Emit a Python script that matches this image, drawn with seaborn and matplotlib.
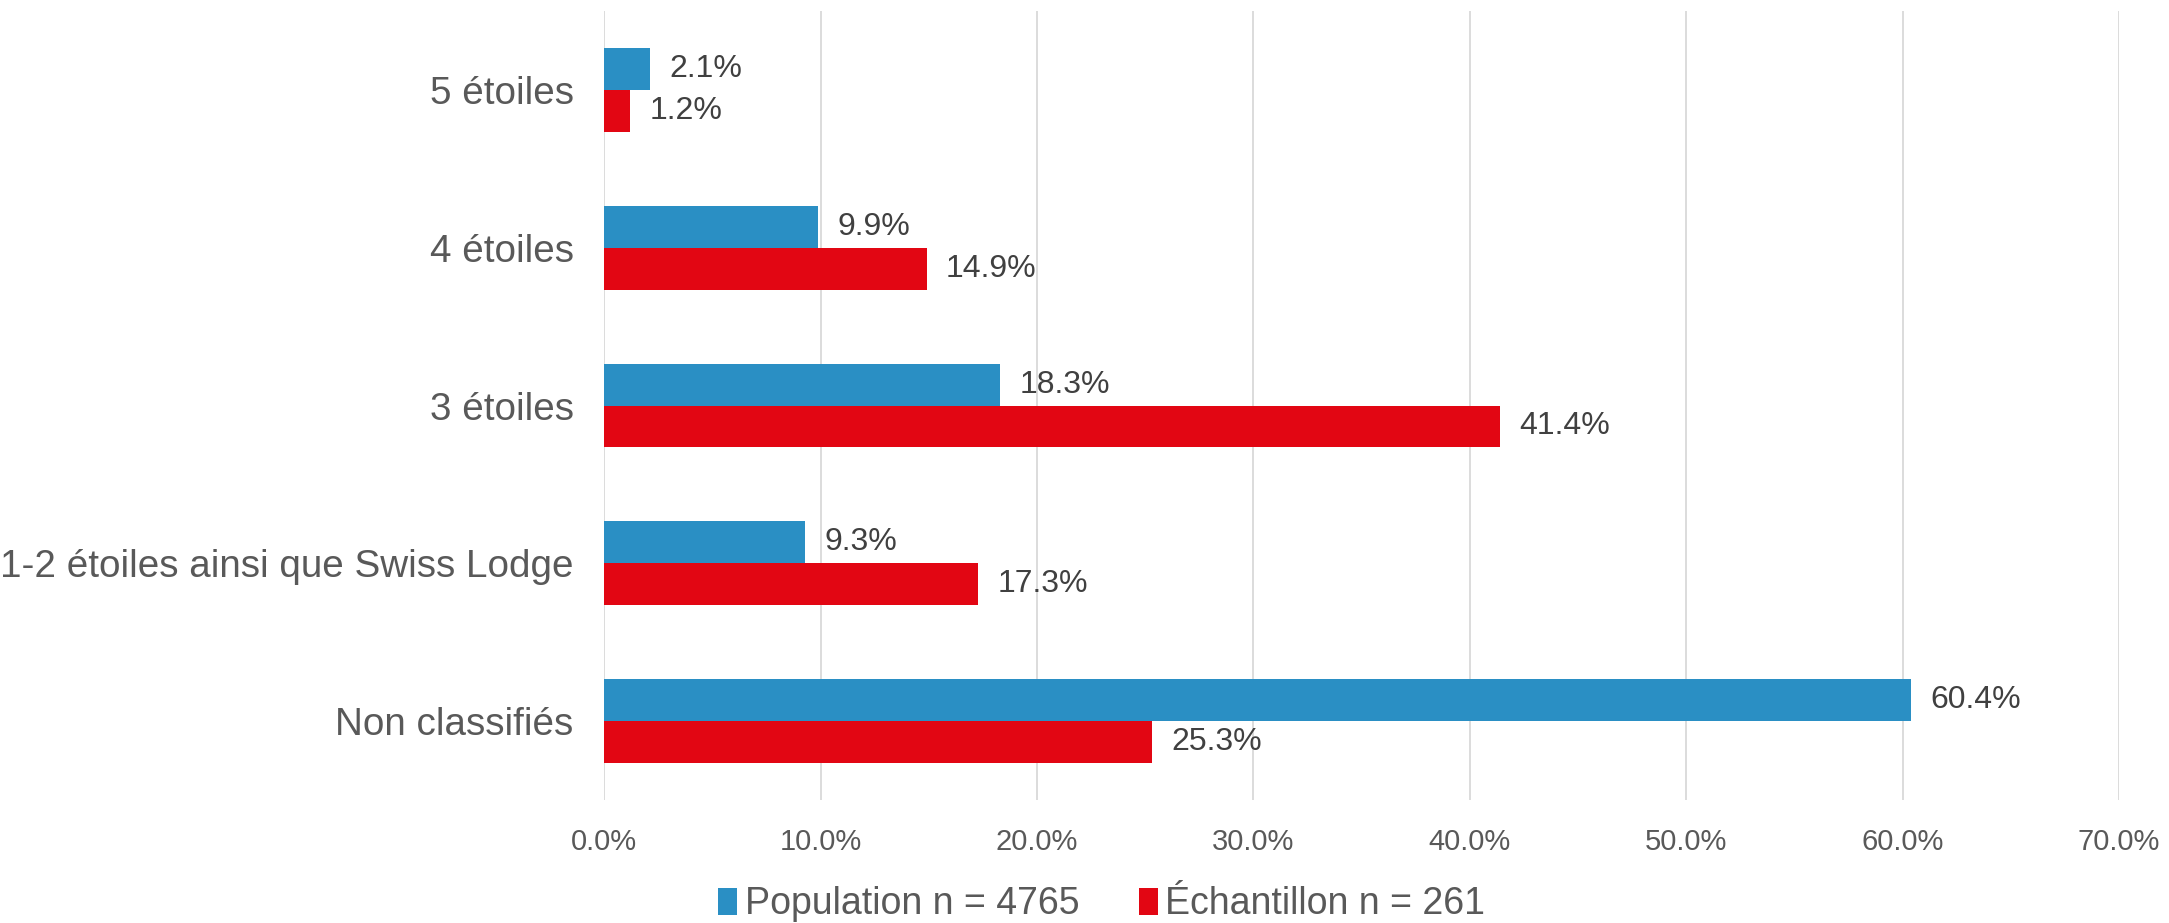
import matplotlib
matplotlib.use("Agg")
import matplotlib.pyplot as plt
import seaborn as sns
import pandas as pd
from matplotlib.ticker import FuncFormatter, MultipleLocator
from matplotlib.patches import Patch

categories = ["5 étoiles", "4 étoiles", "3 étoiles",
              "1-2 étoiles ainsi que Swiss Lodge", "Non classifiés"]
population = [2.1, 9.9, 18.3, 9.3, 60.4]
echantillon = [1.2, 14.9, 41.4, 17.3, 25.3]
series_names = ["Population n = 4765", "Échantillon n = 261"]
colors = ["#2A8FC4", "#E20613"]

df = pd.DataFrame({
    "cat": categories * 2,
    "val": population + echantillon,
    "series": [series_names[0]] * len(categories) + [series_names[1]] * len(categories),
})

sns.set_theme(style="white")
plt.rcParams["font.family"] = ["Liberation Sans", "DejaVu Sans"]
text_color = "#595959"

fig = plt.figure(figsize=(21.69, 9.23), dpi=100)
ax = fig.add_axes([0.2785, 0.1333, 0.977 - 0.2785, 0.988 - 0.1333])

sns.barplot(data=df, y="cat", x="val", hue="series", order=categories,
            hue_order=series_names, palette=colors, orient="h",
            width=0.53, gap=0, linewidth=0, saturation=1, ax=ax, legend=False)

ax.set_xlim(0, 70)
ax.xaxis.set_major_locator(MultipleLocator(10))
ax.xaxis.set_major_formatter(FuncFormatter(lambda v, p: f"{v:.1f}%"))
ax.grid(axis="x", color="#D9D9D9", linewidth=1.3)
ax.set_axisbelow(True)
for s in ax.spines.values():
    s.set_visible(False)
ax.set_xlabel("")
ax.set_ylabel("")
ax.tick_params(axis="x", length=0, pad=20, labelsize=21, labelcolor=text_color)
ax.tick_params(axis="y", length=0, pad=22, labelsize=27.8, labelcolor=text_color)

for cont in ax.containers:
    ax.bar_label(cont, labels=[f"{b.get_width():.1f}%" for b in cont],
                 padding=14, fontsize=23, color="#404040")

handles = [Patch(facecolor=c, edgecolor="none") for c in colors]
fig.legend(handles, series_names, loc="lower center", bbox_to_anchor=(0.508, -0.036),
           ncol=2, frameon=False, fontsize=27, labelcolor=text_color,
           handlelength=0.5, handleheight=0.75, handletextpad=0.2, columnspacing=1.6)

fig.savefig("out.png", dpi=100)
